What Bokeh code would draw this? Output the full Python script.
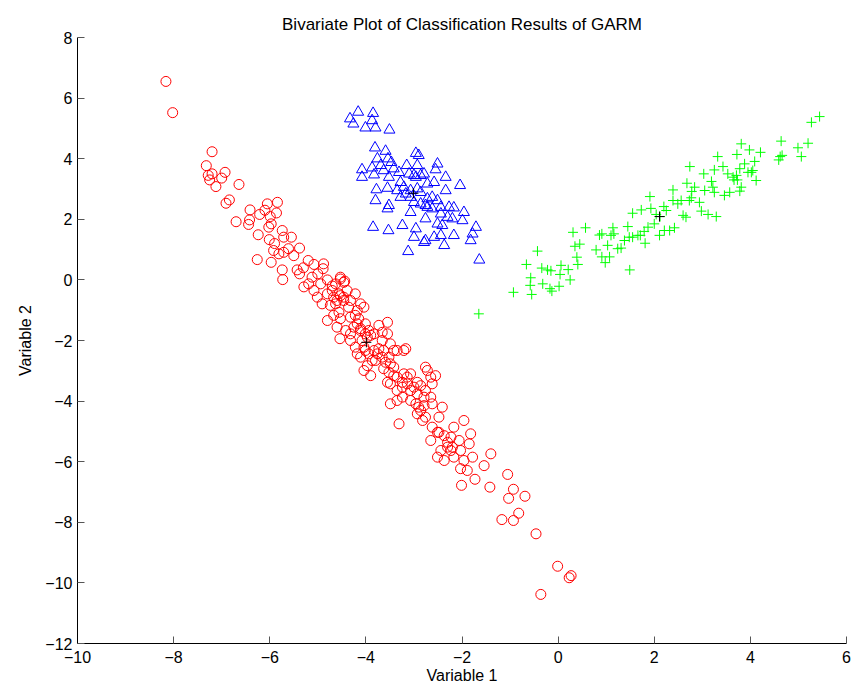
from bokeh.plotting import figure
from bokeh.models import Range1d, FixedTicker, CustomJSTickFormatter
from bokeh.embed import file_html
from bokeh.resources import INLINE

# ---- class 1 (red circles) ----
red_v1 = [
    -8.16, -8.02, -7.20, -7.32, -7.28, -7.20, -7.25, -6.93, -7.00, -7.12,
    -6.64, -6.84, -6.91, -6.70, -6.41, -6.42, -6.44, -6.21, -6.05, -5.84,
    -5.86, -5.99, -5.97, -6.02, -6.24, -5.74, -5.71, -5.55, -6.01, -5.92,
    -5.71, -5.81, -5.61, -5.38, -6.26, -5.97, -5.74, -5.73, -5.20, -5.08,
    -4.88, -4.89, -5.43, -5.38, -5.12, -4.53, -4.44,
    -5.29, -5.19, -5.08, -4.94, -5.01, -4.91, -4.80, -4.70, -4.63, -4.53,
    -4.46, -4.53, -4.60, -4.46, -4.32, -4.22, -4.11, -4.04, -4.18, -4.36,
    -4.80, -4.67, -4.56, -4.53, -4.60, -4.54, -4.42, -4.32, -4.25, -4.18,
    -4.11, -4.01, -3.94, -3.97, -3.83, -4.08, -4.22, -4.32, -4.18, -4.11,
    -4.01, -4.04, -3.90, -3.87, -3.76, -3.73, -3.63, -3.55, -3.55, -3.66,
    -3.49, -3.42, -3.52, -3.35, -3.21, -3.17, -3.49, -3.42, -3.63, -3.52,
    -3.42, -3.55,
    -3.49, -3.35, -3.24, -3.14, -3.07, -3.00, -2.93, -2.86, -2.79, -2.72,
    -2.65, -2.55, -2.62, -2.76, -3.35, -3.21, -3.07, -3.49, -3.35, -3.24,
    -3.07, -2.96, -2.90, -2.79, -2.62, -2.41, -3.31, -2.93, -2.82, -2.48,
    -2.48, -2.37, -2.23, -2.17, -2.06, -1.96, -1.82, -2.65, -2.44, -2.30,
    -2.23, -2.51, -2.37, -2.17, -1.96, -1.78, -1.54, -1.40, -2.03, -1.89,
    -1.73, -2.01, -1.42,
    -1.05, -0.93, -1.03, -0.69, -0.82, -1.17, -0.93, -0.46, -0.01, 0.27,
    0.23, -0.36,
    -4.67, -4.56, -4.46, -4.74, -4.63, -4.39, -4.32, -4.22, -4.15, -4.11,
    -4.01, -3.90, -3.73, -3.66, -4.04, -3.94, -3.83, -3.66, -3.80, -3.59,
    -3.97, -3.24, -3.14, -2.93, -2.76, -2.65, -2.86, -2.76, -2.62, -2.51,
    -2.30, -2.20, -2.03, -1.85, -6.10, -5.90, -5.50, -5.30, -5.00, -4.80,
    -4.70,
]
red_v2 = [
    6.55, 5.52, 4.23, 3.77, 3.45, 3.50, 3.30, 3.55, 3.36, 3.08,
    3.15, 2.64, 2.53, 1.92, 2.31, 1.98, 1.83, 2.16, 2.51, 2.56,
    2.21, 2.09, 1.85, 1.74, 1.49, 1.63, 1.41, 1.41, 1.33, 0.97,
    0.91, 0.86, 1.03, 1.05, 0.67, 0.58, 0.33, 0.01, 0.64, 0.51,
    0.53, 0.37, 0.33, 0.20, 0.09, 0.09, -0.04,
    -0.23, -0.13, -0.35, -0.13, -0.57, -0.79, -0.46, -0.35, -0.13, 0.03,
    -0.08, -0.52, -0.68, -0.57, -0.68, -0.46, -0.79, -0.90, -1.01, -0.90,
    -1.34, -1.17, -1.07, -1.28, -1.56, -1.94, -1.67, -1.78, -1.56, -1.45,
    -1.61, -1.45, -1.67, -1.89, -1.78, -2.00, -2.22, -2.00, -2.44, -2.55,
    -2.33, -2.99, -3.16, -2.66, -2.44, -2.27, -2.33, -1.40, -1.78, -2.00,
    -2.11, -2.33, -2.55, -2.33, -2.33, -2.27, -2.77, -2.88, -2.93, -3.05,
    -3.16, -3.38,
    -3.43, -3.65, -3.54, -3.43, -3.65, -3.54, -3.76, -3.49, -3.87, -2.99,
    -3.21, -3.16, -3.43, -2.88, -3.21, -3.10, -3.10, -4.09, -3.98, -3.87,
    -3.98, -4.09, -4.20, -4.15, -4.09, -4.20, -4.75, -4.42, -4.64, -4.53,
    -5.03, -5.14, -5.19, -4.86, -5.30, -4.64, -5.08, -5.30, -5.63, -5.52,
    -5.63, -5.85, -5.96, -5.85, -5.96, -5.85, -6.13, -5.74, -6.23, -6.29,
    -6.58, -6.78, -6.84,
    -6.42, -6.91, -7.21, -7.14, -7.70, -7.91, -7.94, -8.38, -9.45, -9.76,
    -9.83, -10.38,
    -0.57, -0.46, -0.68, -0.84, -0.79, -0.35, -1.23, -1.17, -1.28, -1.67,
    -1.78, -1.83, -1.50, -1.73, -2.22, -2.44, -2.33, -2.55, -2.66, -2.72,
    -2.83, -3.38, -3.21, -3.38, -3.65, -3.87, -4.31, -4.53, -4.86, -5.03,
    -5.36, -5.52, -5.63, -5.41, 2.30, 1.20, 0.80, 0.40, 0.20, 0.00,
    -0.20,
]

# ---- class 2 (blue triangles) ----
blue_v1 = [
    -4.16, -3.85, -4.33, -4.26, -3.87, -4.01, -3.80, -3.51, -3.81, -3.59,
    -3.76, -3.54, -3.47, -2.96, -2.90, -4.08, -3.87, -3.69, -3.63, -3.42,
    -3.15, -2.93, -2.51, -2.55, -4.08, -3.83, -3.52, -3.31, -3.10, -3.00,
    -2.86, -2.79, -2.34, -2.04, -3.78, -3.55, -3.28, -2.72, -2.58, -2.34,
    -3.80, -3.52, -3.55, -3.28, -3.17, -3.07, -3.00, -3.07, -2.86, -2.72,
    -2.62, -2.51, -2.72, -2.44, -2.27, -2.17, -1.96, -2.76, -2.44, -2.30,
    -2.20, -1.99, -3.85, -3.53, -3.24, -2.96, -2.51, -2.41, -3.00, -2.76,
    -2.58, -2.44, -2.17, -1.71, -1.78, -1.82, -3.12, -2.79, -2.37, -1.64,
    -3.21, -2.93, -2.86, -2.96, -3.35, -2.76, -2.62, -3.07,
]
blue_v2 = [
    5.54, 5.50, 5.32, 5.15, 5.26, 5.02, 5.02, 4.95, 4.36, 4.25,
    4.00, 4.00, 3.88, 4.18, 4.11, 3.64, 3.70, 3.78, 3.61, 3.67,
    3.78, 3.78, 3.83, 3.64, 3.39, 3.47, 3.39, 3.55, 3.50, 3.45,
    3.45, 3.50, 3.39, 3.12, 2.98, 3.03, 3.22, 3.17, 3.22, 2.95,
    2.62, 2.46, 2.35, 2.73, 2.84, 2.73, 2.56, 2.23, 2.51, 2.68,
    2.73, 2.62, 2.40, 2.40, 2.40, 2.38, 2.23, 2.02, 2.18, 2.07,
    2.02, 1.96, 1.74, 1.63, 1.80, 1.69, 1.85, 1.80, 1.41, 1.30,
    1.41, 1.47, 1.47, 1.74, 1.52, 1.30, 0.94, 1.24, 1.14, 0.66,
    3.06, 3.01, 2.89, 3.39, 2.95, 2.46, 2.35, 2.95,
]

# ---- class 3 (green plus signs) ----
green_v1 = [
    -0.93, -0.66, -0.57, -0.58, -0.55, -0.43, -0.34, -0.32, -0.22, -0.15,
    -0.17, -0.13, 0.02, 0.04, 0.06, 0.21, 0.25, 0.31, 0.35, 0.39,
    0.41, 0.45, 0.57, 0.79, 0.86, 0.91, 0.91, 0.98, 1.07, 1.03,
    1.10, 1.14, 1.16, 1.24, 1.31, 1.45, 1.38, 1.48, 1.55, 1.55,
    1.66, 1.73, 1.71, 1.79, 1.81, 1.49, 1.91, 1.93, 1.87, 2.00,
    2.04, 2.12, 2.11, 2.21, 2.20, 2.25, 2.32, 2.39, 2.39, 2.42,
    2.49, 2.56, 2.60, 2.66, 2.68, 2.73, 2.74, 2.78, 2.77, 2.84,
    2.94, 2.98, 3.03, 3.05, 3.12, 3.19, 3.25, 3.22, 3.25, 3.29,
    3.32, 3.43, 3.46, 3.53, 3.57, 3.64, 3.73, 3.72, 3.78, 3.81,
    3.81, 3.88, 3.95, 3.98, 4.05, 4.09, 4.12, 4.21, 4.64, 4.62,
    4.99, 5.06, 5.20, 5.27, 5.44, 4.66, 4.59, 3.78, 4.02, 3.71,
    3.66, -1.65,
]
green_v2 = [
    -0.41, 0.51, 0.07, -0.18, -0.48, 0.95, 0.39, -0.13, 0.33, 0.30,
    -0.29, -0.37, -0.21, 0.18, 0.48, 0.34, 0.00, 1.57, 1.11, 0.75,
    0.51, 1.18, 1.72, 0.99, 1.48, 1.52, 0.76, 0.57, 0.76, 1.14,
    1.47, 1.72, 1.52, 1.03, 1.05, 1.76, 1.30, 1.41, 2.20, 1.41,
    1.47, 2.31, 1.47, 1.60, 1.21, 0.33, 2.75, 2.36, 1.74, 1.85,
    2.16, 2.09, 1.47, 1.63, 2.42, 2.29, 1.63, 2.97, 2.62, 1.72,
    2.51, 2.62, 2.13, 2.07, 3.19, 2.62, 3.74, 2.92, 2.71, 3.06,
    2.56, 2.27, 3.50, 2.95, 2.16, 3.25, 3.63, 3.06, 2.89, 2.09,
    4.07, 3.74, 2.79, 3.50, 2.89, 3.39, 3.30, 4.14, 2.93, 4.49,
    3.06, 3.83, 3.55, 4.29, 3.61, 3.91, 3.28, 4.21, 4.58, 4.07,
    4.36, 4.07, 4.51, 5.20, 5.39, 4.11, 3.96, 3.67, 3.55, 3.45,
    3.30, -1.12,
]

# ---- class centres (black plus signs) ----
centre_v1 = [-3.99, -3.01, 2.11]
centre_v2 = [-2.06, 2.86, 2.09]

x_ticks = [-10, -8, -6, -4, -2, 0, 2, 4, 6]
y_ticks = [-12, -10, -8, -6, -4, -2, 0, 2, 4, 6, 8]

FONT = "Liberation Sans"

p = figure(
    output_backend="svg",
    toolbar_location=None,
    frame_width=769,
    frame_height=606,
    min_border_left=77,
    min_border_right=21,
    min_border_top=37,
    min_border_bottom=45,
    x_range=Range1d(-10, 6),
    y_range=Range1d(-12, 8),
    title="Bivariate Plot of Classification Results of GARM",
    background_fill_color="white",
    border_fill_color="white",
)
p.outline_line_color = None
p.xgrid.grid_line_color = None
p.ygrid.grid_line_color = None

p.title.align = "center"
p.title.text_font = FONT
p.title.text_font_size = "17px"
p.title.text_font_style = "normal"
p.title.text_color = "black"
p.title.standoff = 8

minus_fmt = CustomJSTickFormatter(
    code="return tick < 0 ? '\u2212' + Math.abs(tick) : String(tick);"
)

for ax, ticks, label in ((p.xaxis[0], x_ticks, "Variable 1"),
                         (p.yaxis[0], y_ticks, "Variable 2")):
    ax.ticker = FixedTicker(ticks=ticks)
    ax.formatter = minus_fmt
    ax.axis_label = label
    ax.axis_label_text_font = FONT
    ax.axis_label_text_font_size = "16px"
    ax.axis_label_text_font_style = "normal"
    ax.axis_label_text_color = "black"
    ax.major_label_text_font = FONT
    ax.major_label_text_font_size = "16px"
    ax.major_label_text_color = "black"
    ax.axis_line_color = "black"
    ax.axis_line_width = 1
    ax.major_tick_in = 7
    ax.major_tick_out = 0
    ax.major_tick_line_color = "#555555"
    ax.minor_tick_line_color = None

p.xaxis.major_label_standoff = 7
p.xaxis.axis_label_standoff = 1
p.yaxis.major_label_standoff = 5
p.yaxis.axis_label_standoff = 8

p.scatter(red_v1, red_v2, marker="circle", size=10, fill_color=None,
          line_color="#ff0000", line_width=1)
p.scatter(blue_v1, blue_v2, marker="triangle", size=11, fill_color=None,
          line_color="#0000ff", line_width=1)
p.scatter(green_v1, green_v2, marker="cross", size=10,
          line_color="#00ff00", line_width=1)
p.scatter(centre_v1, centre_v2, marker="cross", size=10,
          line_color="black", line_width=1)

open("out.html", "w").write(file_html(p, INLINE))
